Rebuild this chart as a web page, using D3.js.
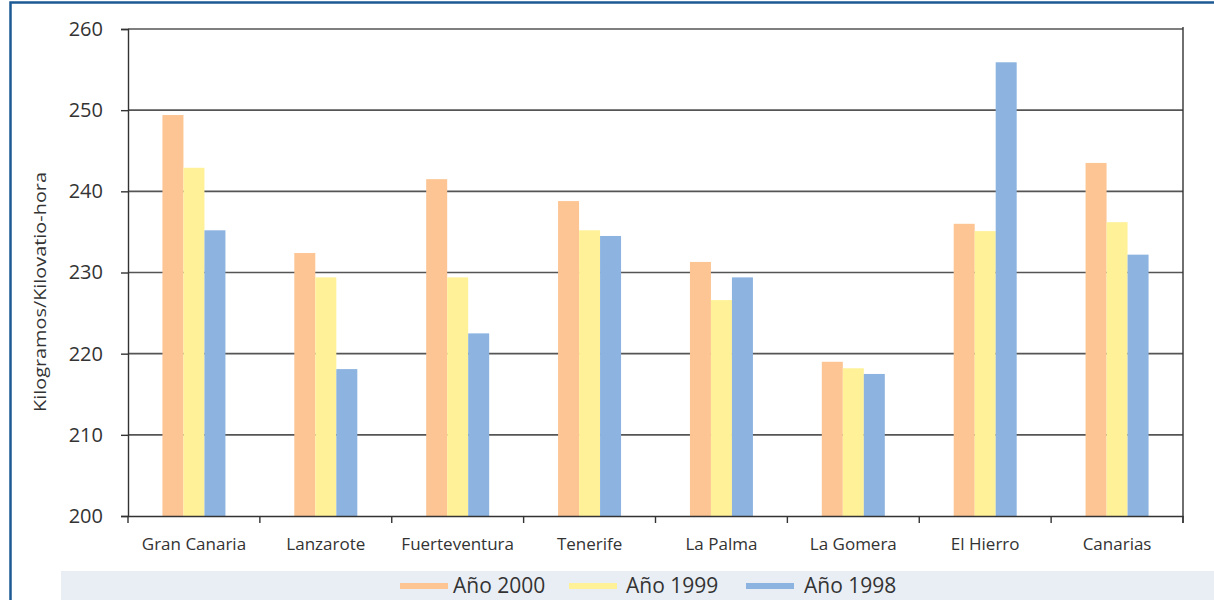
<!doctype html>
<html lang="es">
<head>
  <meta charset="utf-8">
  <title>Kilogramos/Kilovatio-hora</title>
  <script src="https://cdnjs.cloudflare.com/ajax/libs/d3/7.8.5/d3.min.js"></script>
  <style>
    html, body { margin: 0; padding: 0; background: #fff; }
    svg { display: block; font-family: "Open Sans", "Noto Sans", sans-serif; }
  </style>
</head>
<body>
  <svg id="chart" width="1214" height="600"></svg>
<script>
  //
  // Data
  //

  var islands = ['Gran Canaria', 'Lanzarote', 'Fuerteventura', 'Tenerife', 'La Palma', 'La Gomera', 'El Hierro', 'Canarias']
  var series = ['Año 2000', 'Año 1999', 'Año 1998']
  var year2000 = [249.4, 232.4, 241.5, 238.8, 231.3, 219.0, 236.0, 243.5]
  var year1999 = [242.9, 229.4, 229.4, 235.2, 226.6, 218.2, 235.1, 236.2]
  var year1998 = [235.2, 218.1, 222.5, 234.5, 229.4, 217.5, 255.9, 232.2]
  var yTicks = [200, 210, 220, 230, 240, 250, 260]

  var values = [year2000, year1999, year1998]
  var colors = ['#fdc593', '#fff197', '#8db4e0']

  //
  // Layout
  //

  var svg = d3.select('#chart')
  var plotLeft = 128, plotRight = 1183, plotTop = 29, plotBottom = 516

  var x = d3.scaleBand().domain(islands).range([plotLeft, plotRight])
  var xs = d3.scaleBand().domain(series).range([0, 63])
  var y = d3.scaleLinear().domain([200, 260]).range([plotBottom, plotTop])

  // outer frame
  svg.append('rect')
    .attr('x', 10.5).attr('y', 2.5)
    .attr('width', 1300).attr('height', 700)
    .attr('fill', 'none')
    .attr('stroke', '#1d5a94')
    .attr('stroke-width', 2.5)

  // gridlines
  svg.append('g')
    .selectAll('line')
    .data(yTicks.slice(1))
    .join('line')
    .attr('x1', plotLeft).attr('x2', plotRight)
    .attr('y1', d => y(d)).attr('y2', d => y(d))
    .attr('stroke', '#555')
    .attr('stroke-width', 1.6)

  // bars
  series.forEach(function (s, i) {
    svg.append('g')
      .selectAll('rect')
      .data(values[i])
      .join('rect')
      .attr('x', (d, j) => x(islands[j]) + (x.bandwidth() - 63) / 2 + xs(s))
      .attr('width', xs.bandwidth())
      .attr('y', d => y(d))
      .attr('height', d => y(200) - y(d))
      .attr('fill', colors[i])
  })

  // y axis
  var yAxis = svg.append('g')
    .attr('transform', 'translate(' + plotLeft + ',0)')
    .call(d3.axisLeft(y).tickValues(yTicks).tickSize(7).tickPadding(18))
  yAxis.select('.domain').attr('stroke', '#333').attr('stroke-width', 1.4)
  yAxis.selectAll('.tick line').attr('stroke', '#333').attr('stroke-width', 1.4)
  yAxis.selectAll('text').attr('font-size', 20).attr('fill', '#333')
    .attr('font-family', '"Open Sans", sans-serif')

  // right border of plot
  svg.append('line')
    .attr('x1', plotRight).attr('x2', plotRight)
    .attr('y1', plotTop - 2).attr('y2', plotBottom + 7)
    .attr('stroke', '#333').attr('stroke-width', 1.4)

  // x axis
  var xAxis = svg.append('g')
    .attr('transform', 'translate(0,' + plotBottom + ')')
    .call(d3.axisBottom(x).tickSize(0).tickPadding(22))
  xAxis.select('.domain').attr('stroke', '#333').attr('stroke-width', 1.4)
  xAxis.selectAll('text').attr('font-size', 17).attr('fill', '#333')
    .attr('font-family', '"Open Sans", sans-serif')

  var xTickPos = d3.range(islands.length + 1).map(i => plotLeft + i * x.step())
  svg.append('g')
    .selectAll('line')
    .data(xTickPos)
    .join('line')
    .attr('x1', d => d).attr('x2', d => d)
    .attr('y1', plotBottom).attr('y2', plotBottom + 7)
    .attr('stroke', '#333').attr('stroke-width', 1.4)

  // y title
  svg.append('text')
    .attr('transform', 'translate(46,292) rotate(-90)')
    .attr('text-anchor', 'middle')
    .attr('font-size', 17)
    .attr('textLength', 240)
    .attr('lengthAdjust', 'spacingAndGlyphs')
    .attr('fill', '#333')
    .text('Kilogramos/Kilovatio-hora')

  // legend
  svg.append('rect')
    .attr('x', 61).attr('y', 571)
    .attr('width', 1153).attr('height', 29)
    .attr('fill', '#e9eef5')

  var legendX = [400, 569, 746]
  var legend = svg.append('g')
    .selectAll('g')
    .data(series)
    .join('g')
    .attr('transform', (d, i) => 'translate(' + legendX[i] + ',586)')
  legend.append('rect')
    .attr('x', 0).attr('y', -3)
    .attr('width', 48).attr('height', 6)
    .attr('fill', (d, i) => colors[i])
  legend.append('text')
    .attr('x', (d, i) => [53, 57, 58][i]).attr('y', 7)
    .attr('font-size', 21)
    .attr('fill', '#333')
    .text(d => d)
</script>
</body>
</html>
